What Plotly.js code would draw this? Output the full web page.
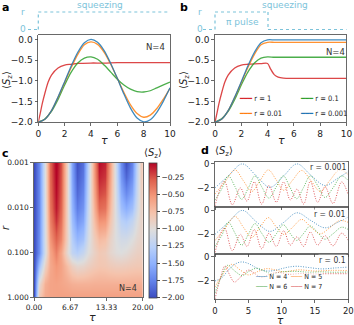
<!DOCTYPE html>
<html>
<head>
<meta charset="utf-8">
<script src="https://cdn.plot.ly/plotly-3.0.1.min.js"></script>
<style>
  html, body { margin: 0; padding: 0; background: #fff; }
  #fig { width: 354px; height: 325px; }
</style>
</head>
<body>
<div id="fig"></div>
<script>
// ---- panel a : squeezing only, N=4 ----
let tauA = [0, 0.5, 1, 1.5, 2, 2.5, 3, 3.5, 4, 4.5, 5, 5.5, 6, 6.5, 7, 7.5, 8, 8.5, 9, 9.5, 10];
let aR0001 = [-2, -1.93, -1.72, -1.39, -1.02, -0.64, -0.31, -0.08, 0, -0.07, -0.27, -0.58, -0.94, -1.32, -1.66, -1.9, -1.99, -1.94, -1.76, -1.49, -1.17];
let aR001 = [-2, -1.93, -1.72, -1.4, -1.04, -0.68, -0.36, -0.13, -0.06, -0.12, -0.31, -0.6, -0.94, -1.28, -1.58, -1.79, -1.88, -1.83, -1.67, -1.44, -1.18];
let aR01 = [-2, -1.92, -1.74, -1.45, -1.1, -0.79, -0.57, -0.45, -0.42, -0.48, -0.62, -0.79, -0.96, -1.1, -1.2, -1.26, -1.27, -1.24, -1.17, -1.1, -1.03];
let tauAr1 = [0, 0.15, 0.3, 0.5, 0.75, 1, 1.5, 2, 2.5, 3, 4, 5, 6, 8, 10];
let aR1 = [-2, -1.78, -1.55, -1.3, -1.03, -0.86, -0.69, -0.62, -0.6, -0.58, -0.57, -0.57, -0.56, -0.56, -0.56];

// ---- panel b : pi pulse then squeezing ----
let tauB = [0, 0.5, 1, 1.5, 2, 2.5, 3, 3.5, 4, 4.5, 5, 6, 7, 8, 9, 10];
let bR0001 = [-2, -1.93, -1.72, -1.39, -1.02, -0.64, -0.31, -0.08, -0.01, -0.01, -0.01, -0.01, -0.01, -0.01, -0.01, -0.01];
let bR001 = [-2, -1.93, -1.72, -1.4, -1.04, -0.68, -0.36, -0.13, -0.07, -0.07, -0.07, -0.07, -0.07, -0.07, -0.07, -0.07];
let bR01 = [-2, -1.92, -1.74, -1.45, -1.1, -0.79, -0.57, -0.45, -0.42, -0.43, -0.43, -0.43, -0.43, -0.43, -0.43, -0.43];
let tauBr1 = [0, 0.15, 0.3, 0.5, 0.75, 1, 1.5, 2, 2.5, 3, 3.5, 4, 4.2, 4.5, 4.8, 5.2, 6, 8, 10];
let bR1 = [-2, -1.78, -1.55, -1.3, -1.03, -0.86, -0.69, -0.62, -0.6, -0.59, -0.585, -0.58, -0.7, -0.85, -0.91, -0.935, -0.94, -0.94, -0.94];

// ---- panel c : heat map of <Sz>(tau, r), N=4 ----
let tauGrid = [0, 1, 2, 3, 4, 5, 6, 7, 8, 9, 10, 11, 12, 13, 14, 15, 16, 17, 18, 19, 20];
let rGrid = [0.001, 0.002, 0.005, 0.01, 0.02, 0.05, 0.1, 0.2, 0.5, 1];
let szGrid = [
  [-2.00, -1.72, -1.02, -0.32, -0.01, -0.24, -0.88, -1.58, -1.97, -1.84, -1.25, -0.55, -0.06, -0.12, -0.55, -1.15, -1.70, -1.98, -1.75, -1.20, -0.65],
  [-2.00, -1.72, -1.02, -0.33, -0.03, -0.26, -0.88, -1.56, -1.93, -1.80, -1.23, -0.57, -0.12, -0.17, -0.58, -1.13, -1.64, -1.88, -1.68, -1.18, -0.68],
  [-2.00, -1.72, -1.03, -0.35, -0.06, -0.28, -0.88, -1.52, -1.86, -1.73, -1.20, -0.62, -0.22, -0.26, -0.64, -1.10, -1.52, -1.70, -1.55, -1.15, -0.74],
  [-2.00, -1.72, -1.04, -0.38, -0.09, -0.31, -0.88, -1.47, -1.78, -1.66, -1.17, -0.68, -0.33, -0.36, -0.70, -1.08, -1.40, -1.52, -1.40, -1.10, -0.80],
  [-2.00, -1.71, -1.05, -0.43, -0.16, -0.36, -0.88, -1.40, -1.66, -1.56, -1.13, -0.75, -0.50, -0.52, -0.78, -1.05, -1.25, -1.30, -1.20, -1.02, -0.86],
  [-2.00, -1.69, -1.06, -0.52, -0.30, -0.45, -0.88, -1.28, -1.46, -1.38, -1.08, -0.85, -0.72, -0.75, -0.90, -1.03, -1.10, -1.10, -1.03, -0.95, -0.90],
  [-2.00, -1.68, -1.08, -0.60, -0.42, -0.60, -0.95, -1.20, -1.27, -1.17, -1.02, -0.90, -0.82, -0.85, -0.94, -1.00, -1.02, -0.99, -0.93, -0.89, -0.88],
  [-2.00, -1.40, -0.90, -0.62, -0.52, -0.58, -0.74, -0.88, -0.95, -0.93, -0.88, -0.83, -0.80, -0.81, -0.84, -0.86, -0.86, -0.85, -0.83, -0.82, -0.82],
  [-2.00, -0.98, -0.66, -0.59, -0.58, -0.60, -0.63, -0.66, -0.67, -0.67, -0.67, -0.66, -0.66, -0.66, -0.66, -0.66, -0.66, -0.66, -0.66, -0.66, -0.66],
  [-2.00, -0.82, -0.62, -0.59, -0.58, -0.57, -0.57, -0.57, -0.57, -0.57, -0.57, -0.57, -0.57, -0.57, -0.57, -0.57, -0.57, -0.57, -0.57, -0.57, -0.57]
];

// ---- panel d : N = 4..7 for three r values ----
let nLabels = ["N = 4", "N = 5", "N = 6", "N = 7"];
let rLabels = ["r = 0.001", "r = 0.01", "r = 0.1"];
let tauN4 = [0, 2, 4.1, 6.2, 8.25, 10.3, 12.3, 14.4, 16.5, 18.4, 20];
let tauN5 = [0, 1.5, 3.0, 4.25, 5.5, 6.75, 8.0, 9.15, 10.3, 11.65, 13.0, 14.4, 15.8, 17.2, 18.7, 20];
let tauN6 = [0, 1, 2, 3, 4, 5, 6, 7, 8.1, 9.2, 10.25, 11.25, 12.25, 13.25, 14.3, 15.4, 16.5, 17.7, 19, 20];
let tauN7 = [0, 1.4, 2.6, 3.8, 4.8, 5.9, 7.0, 8.1, 9.2, 10.3, 11.3, 12.3, 13.3, 14.3, 15.4, 16.5, 17.7, 19.0, 20];

let d1N4 = [-2, -1.0, 0, -1.0, -1.95, -1.0, 0, -0.95, -1.8, -1.2, -0.65];
let d1N5 = [-2.5, -1.5, -0.5, -1.4, -2.3, -1.4, -0.5, -1.3, -2.2, -1.35, -0.55, -1.4, -2.3, -1.4, -0.5, -0.9];
let d1N6 = [-3, -2.1, -1.0, -1.9, -2.95, -2.0, -1.0, -1.9, -2.85, -1.9, -1.0, -1.95, -2.9, -2.0, -1.0, -1.8, -2.8, -2.0, -1.0, -1.4];
let d1N7 = [-3.5, -1.45, -3.4, -2.0, -3.1, -1.5, -3.35, -1.8, -3.2, -1.5, -3.0, -2.1, -3.35, -1.45, -3.2, -1.9, -3.3, -1.5, -2.6];

let d2N4 = [-2, -1.0, 0, -0.95, -1.75, -1.0, -0.2, -0.85, -1.45, -1.0, -0.55];
let d2N5 = [-2.5, -1.5, -0.5, -1.4, -2.25, -1.4, -0.6, -1.35, -2.0, -1.4, -0.75, -1.4, -1.95, -1.45, -0.85, -1.0];
let d2N6 = [-3, -2.1, -1.0, -1.9, -2.9, -2.0, -1.1, -1.9, -2.65, -1.95, -1.2, -1.9, -2.5, -1.95, -1.3, -1.85, -2.4, -1.95, -1.4, -1.6];
let d2N7 = [-3.5, -1.45, -3.35, -2.0, -3.0, -1.6, -3.2, -1.9, -3.0, -1.7, -2.9, -2.2, -3.0, -1.8, -2.9, -2.1, -2.95, -1.9, -2.5];

let tau3N4 = [0, 1, 2, 3, 4, 5, 6, 7, 8, 9, 10, 11, 12.3, 14, 16, 18, 20];
let d3N4 = [-2, -1.75, -1.1, -0.6, -0.42, -0.55, -0.85, -1.1, -1.18, -1.12, -0.98, -0.85, -0.78, -0.88, -1.0, -0.92, -0.85];
let tau3N5 = [0, 1, 2.5, 3.8, 5, 6.3, 7.7, 9, 10.3, 12.5, 15, 17.5, 20];
let d3N5 = [-2.5, -1.6, -0.62, -1.1, -1.5, -1.25, -0.98, -1.08, -1.25, -1.08, -1.18, -1.12, -1.15];
let tau3N6 = [0, 0.9, 1.9, 3, 4.1, 5.1, 6.2, 7.3, 8.4, 10, 12, 14, 16, 18, 20];
let d3N6 = [-3, -1.7, -0.7, -1.2, -1.55, -1.2, -0.95, -1.15, -1.4, -1.25, -1.2, -1.28, -1.25, -1.28, -1.26];
let tau3N7 = [0, 0.7, 1.5, 2.2, 2.9, 3.8, 5.0, 6.0, 7.0, 8.2, 9.5, 11, 13, 15, 17, 20];
let d3N7 = [-3.5, -2.0, -0.75, -1.5, -2.1, -1.7, -1.1, -1.4, -1.7, -1.45, -1.3, -1.45, -1.38, -1.42, -1.4, -1.4];

// ---- styling ----
const W = 354, H = 325;
const fx = p => p / W;
const fy = p => 1 - p / H;
const blue = "#1f77b4", orange = "#ff7f0e", green = "#2ca02c", red = "#d62728";
const nColors = [blue, orange, green, red];
const sketch = "#7cc3da";
const font = "DejaVu Sans";
const narrow = "DejaVu Sans Condensed, DejaVu Sans";

function solid(x, y, color, xa, ya) {
  return {x: x, y: y, xaxis: xa, yaxis: ya, type: "scatter", mode: "lines",
    line: {color: color, width: 1.3, shape: "spline", smoothing: 0.8}, opacity: 0.85,
    showlegend: false, hoverinfo: "skip"};
}
function dotted(x, y, color, xa, ya) {
  return {x: x, y: y, xaxis: xa, yaxis: ya, type: "scatter", mode: "lines",
    line: {color: color, width: 1, dash: "1px,1.5px", shape: "spline", smoothing: 1}, opacity: 0.75,
    showlegend: false, hoverinfo: "skip"};
}

let data = [
  solid(tauAr1, aR1, red, "x", "y"),
  solid(tauA, aR01, green, "x", "y"),
  solid(tauA, aR001, orange, "x", "y"),
  solid(tauA, aR0001, blue, "x", "y"),
  solid(tauBr1, bR1, red, "x2", "y2"),
  solid(tauB, bR01, green, "x2", "y2"),
  solid(tauB, bR001, orange, "x2", "y2"),
  solid(tauB, bR0001, blue, "x2", "y2"),
  {
    type: "heatmap", x: tauGrid, y: rGrid, z: szGrid, xaxis: "x3", yaxis: "y3",
    zsmooth: "best", zmin: -2, zmax: -0.04, hoverinfo: "skip",
    colorscale: [
      [0, "rgb(59,76,192)"], [0.125, "rgb(98,130,234)"], [0.25, "rgb(141,176,254)"],
      [0.375, "rgb(184,208,249)"], [0.5, "rgb(221,221,221)"], [0.625, "rgb(245,196,173)"],
      [0.75, "rgb(244,154,123)"], [0.875, "rgb(222,96,77)"], [1, "rgb(180,4,38)"]
    ],
    colorbar: {
      x: fx(149.3), xanchor: "left", xpad: 0, y: fy(230), yanchor: "middle", ypad: 0,
      len: 134.6 / H, lenmode: "fraction", thickness: 8, thicknessmode: "pixels",
      outlinewidth: 0.8, outlinecolor: "#444",
      ticks: "outside", ticklen: 3, tickcolor: "#444",
      tickvals: [-0.25, -0.5, -0.75, -1, -1.25, -1.5, -1.75, -2],
      tickformat: ".2f", tickfont: {size: 7.5, family: font, color: "#222"}
    }
  }
];

let dSets = [
  [[tauN4, d1N4], [tauN5, d1N5], [tauN6, d1N6], [tauN7, d1N7]],
  [[tauN4, d2N4], [tauN5, d2N5], [tauN6, d2N6], [tauN7, d2N7]],
  [[tau3N4, d3N4], [tau3N5, d3N5], [tau3N6, d3N6], [tau3N7, d3N7]]
];
dSets.forEach(function(set, i) {
  set.forEach(function(curve, j) {
    data.push(dotted(curve[0], curve[1], nColors[j], "x" + (i + 4), "y" + (i + 4)));
  });
});

function frameAxis(extra) {
  let base = {
    showline: true, mirror: true, linecolor: "#444", linewidth: 0.8,
    ticks: "outside", ticklen: 3, tickwidth: 0.8, tickcolor: "#444",
    showgrid: false, zeroline: false, fixedrange: true,
    tickfont: {size: 9, family: font, color: "#222"}
  };
  return Object.assign(base, extra);
}

let dTop = [161.5, 208, 254.5];
let dH = 45;

let layout = {
  width: W, height: H,
  margin: {l: 0, r: 0, t: 0, b: 0},
  paper_bgcolor: "#fff", plot_bgcolor: "#fff",
  showlegend: false,
  font: {family: font, color: "#222"},
  xaxis: frameAxis({domain: [fx(38.3), fx(170)], range: [0, 10], anchor: "y", tickvals: [0, 2, 4, 6, 8, 10]}),
  yaxis: frameAxis({domain: [fy(122.2), fy(35.3)], range: [-2, 0.1], anchor: "x",
    tickvals: [0, -0.5, -1, -1.5, -2], tickformat: ".1f"}),
  xaxis2: frameAxis({domain: [fx(215), fx(346.5)], range: [0, 10], anchor: "y2", tickvals: [0, 2, 4, 6, 8, 10]}),
  yaxis2: frameAxis({domain: [fy(122.2), fy(35.3)], range: [-2, 0.1], anchor: "x2",
    tickvals: [0, -0.5, -1, -1.5, -2], tickformat: ".1f"}),
  xaxis3: frameAxis({domain: [fx(34), fx(142.7)], range: [0, 20], anchor: "y3",
    tickvals: [0, 6.67, 13.33, 20], ticktext: ["0.00", "6.67", "13.33", "20.00"],
    tickfont: {size: 7.5, family: font, color: "#222"}}),
  yaxis3: frameAxis({domain: [fy(297.3), fy(162.7)], type: "log", range: [0, -3], anchor: "x3",
    tickvals: [0.001, 0.01, 0.1, 1], ticktext: ["0.001", "0.010", "0.100", "1.000"],
    tickfont: {size: 7.5, family: font, color: "#222"}}),
  annotations: [],
  shapes: []
};

for (let i = 0; i < 3; i++) {
  let xa = "xaxis" + (i + 4), ya = "yaxis" + (i + 4);
  layout[xa] = frameAxis({domain: [fx(215), fx(348.3)], range: [0, 20], anchor: "y" + (i + 4),
    tickvals: [0, 5, 10, 15, 20], showticklabels: i === 2,
    tickfont: {size: 8.5, family: font, color: "#222"}});
  layout[ya] = frameAxis({domain: [fy(dTop[i] + dH), fy(dTop[i])], range: [-3.55, 0.2], anchor: "x" + (i + 4),
    tickvals: [0, -2], tickfont: {size: 8.5, family: font, color: "#222"}});
}

function note(text, px, py, opts) {
  let a = {text: text, x: fx(px), y: fy(py), xref: "paper", yref: "paper",
    showarrow: false, xanchor: "center", yanchor: "middle",
    font: {size: 9, family: font, color: "#222"}};
  return Object.assign(a, opts || {});
}
let sz = "⟨<i>S</i><sub>z</sub>⟩";
let tau = "<i>τ</i>";
let ann = layout.annotations;
// panel letters
ann.push(note("<b>a</b>", 5, 8, {font: {size: 11, family: font, color: "#000"}}));
ann.push(note("<b>b</b>", 184, 8, {font: {size: 11, family: font, color: "#000"}}));
ann.push(note("<b>c</b>", 5, 153, {font: {size: 11, family: font, color: "#000"}}));
ann.push(note("<b>d</b>", 205, 150, {font: {size: 11, family: font, color: "#000"}}));
// axis titles
ann.push(note(sz, 7, 80, {textangle: -90, font: {size: 10, family: font, color: "#222"}}));
ann.push(note(sz, 184, 80, {textangle: -90, font: {size: 10, family: font, color: "#222"}}));
ann.push(note(tau, 104, 140, {font: {size: 11, family: font, color: "#222"}}));
ann.push(note(tau, 281, 140, {font: {size: 11, family: font, color: "#222"}}));
ann.push(note("<i>r</i>", 5, 228, {textangle: -90, font: {size: 10, family: font, color: "#222"}}));
ann.push(note(tau, 92, 317.5, {font: {size: 11, family: font, color: "#222"}}));
ann.push(note(tau, 280, 319.5, {font: {size: 10.5, family: font, color: "#222"}}));
ann.push(note(sz, 153, 153, {font: {size: 10, family: font, color: "#222"}}));
ann.push(note(sz, 224, 151, {font: {size: 10, family: font, color: "#222"}}));
// N=4 tags
ann.push(note("N=4", 155, 47, {font: {size: 8.5, family: font, color: "#333"}}));
ann.push(note("N=4", 335, 52, {font: {size: 8.5, family: font, color: "#333"}}));
ann.push(note("N=4", 128, 288, {font: {size: 8, family: font, color: "#333"}}));
// r tags in d
let rTagY = [167, 213.5, 260];
rLabels.forEach(function(t, i) {
  ann.push(note(t, 347, rTagY[i], {xanchor: "right", bgcolor: "rgba(255,255,255,0.6)", borderpad: 0,
    font: {size: 8.5, family: narrow, color: "#333"}}));
});
// schematic text
ann.push(note("r", 23, 12, {font: {size: 9, family: font, color: sketch}}));
ann.push(note("0", 22.5, 29.5, {font: {size: 9, family: font, color: sketch}}));
ann.push(note("squeezing", 100, 5, {font: {size: 9, family: font, color: sketch}}));
ann.push(note("r", 200, 12, {font: {size: 9, family: font, color: sketch}}));
ann.push(note("0", 199.5, 29.5, {font: {size: 9, family: font, color: sketch}}));
ann.push(note("π pulse", 242, 22, {font: {size: 9, family: font, color: sketch}}));
ann.push(note("squeezing", 285, 5, {font: {size: 9, family: font, color: sketch}}));
// legend for b
let rLeg = [["r = 1", red], ["r = 0.1", green], ["r = 0.01", orange], ["r = 0.001", blue]];
let legBx = [237, 298], legBy = [98.5, 113.5];
rLeg.forEach(function(item, k) {
  ann.push(note('<span style="color:' + item[1] + '">━━━</span> ' + item[0],
    legBx[k % 2], legBy[Math.floor(k / 2)], {xanchor: "left", font: {size: 7.5, family: narrow, color: "#222"}}));
});
// legend for d
let legDx = [255, 290], legDy = [276.5, 286.5];
nLabels.forEach(function(t, k) {
  ann.push(note('<span style="color:' + nColors[k] + '">┈┈┈</span> ' + t,
    legDx[k % 2], legDy[Math.floor(k / 2)], {xanchor: "left", bgcolor: "rgba(255,255,255,0.6)", borderpad: 0,
      font: {size: 7, family: narrow, color: "#222"}}));
});

// schematic pulse lines (drawn above panels a and b)
function seg(x0, y0, x1, y1) {
  return {type: "line", xref: "paper", yref: "paper", x0: fx(x0), y0: fy(y0), x1: fx(x1), y1: fy(y1),
    line: {color: sketch, width: 1.2, dash: "dot"}};
}
layout.shapes.push(seg(28, 29.5, 38.3, 29.5), seg(38.3, 29.5, 38.3, 12), seg(38.3, 12, 170, 12));
layout.shapes.push(seg(203, 29.5, 215, 29.5), seg(215, 29.5, 215, 12), seg(215, 12, 268, 12),
  seg(268, 12, 268, 29.5), seg(268, 29.5, 346.5, 29.5));

Plotly.newPlot("fig", data, layout, {displayModeBar: false, staticPlot: true});
</script>
</body>
</html>
